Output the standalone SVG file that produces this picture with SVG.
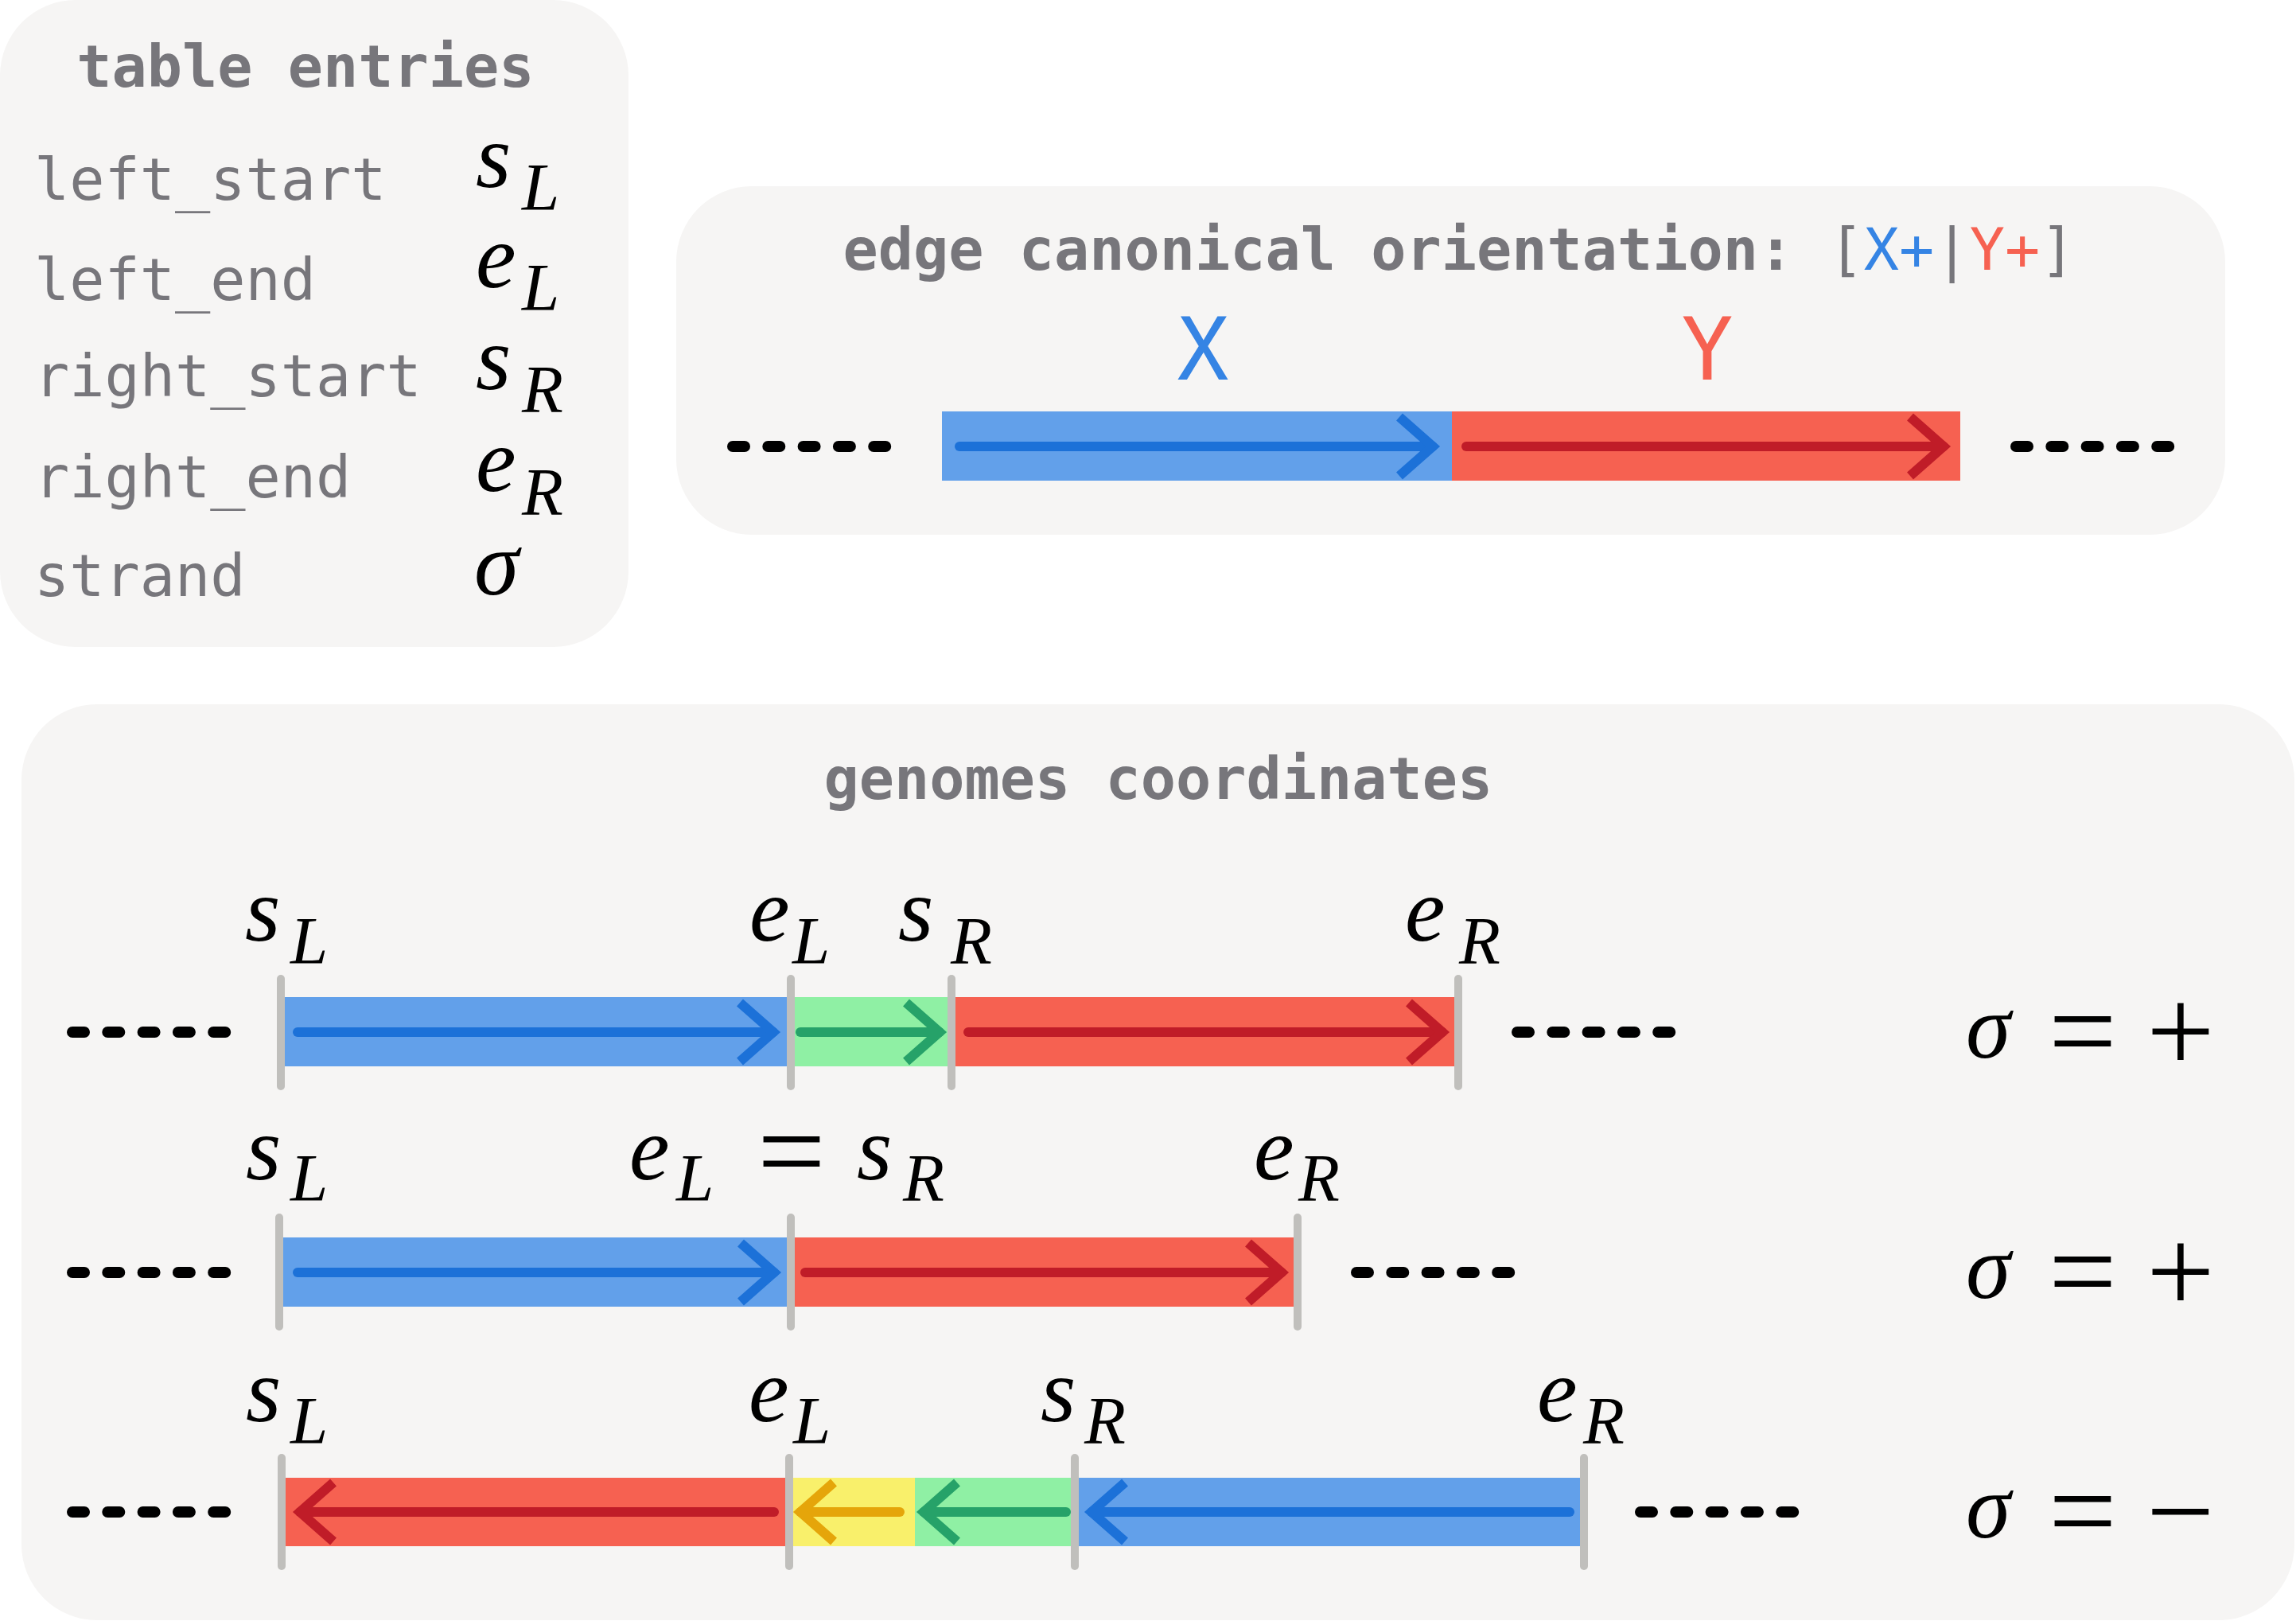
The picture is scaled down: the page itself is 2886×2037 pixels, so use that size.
<svg xmlns="http://www.w3.org/2000/svg" xmlns:xlink="http://www.w3.org/1999/xlink" width="2886" height="2037" viewBox="0 0 2886 2037">
<style>
.panel{fill:#f6f5f4}
.title{font-family:"DejaVu Sans Mono",monospace;font-weight:bold;font-size:73.5px;fill:#77767b}
.mono{font-family:"DejaVu Sans Mono",monospace;font-size:73.5px;fill:#77767b}
.big{font-family:"DejaVu Sans Mono",monospace;font-size:108px}
.m{font-family:"Liberation Serif","DejaVu Serif",serif;font-style:italic;font-size:114px;fill:#000}
.sub{font-size:85px}
.op{font-family:"Liberation Serif","DejaVu Serif",serif;font-style:normal;font-size:152px;fill:#000}
.dots{stroke:#000;stroke-width:14;stroke-linecap:round;stroke-dasharray:15 29.3;fill:none}
.tick{stroke:#c0bfbc;stroke-width:10;stroke-linecap:round}
.ln{stroke-width:12;stroke-linecap:round;fill:none}
.hd{stroke-width:12;stroke-linejoin:miter;stroke-miterlimit:10;fill:none}
.bF{fill:#62a0ea}.rF{fill:#f66151}.gF{fill:#8ff0a4}.yF{fill:#f9f06b}
.bS{stroke:#1c71d8}.rS{stroke:#c01c28}.gS{stroke:#26a269}.yS{stroke:#e5a50a}
</style>
<defs>
<path id="headR" d="M -42 -37 L 0 0 L -42 37"/>
<path id="headL" d="M 42 -37 L 0 0 L 42 37"/>
</defs>

<g id="table-entries">
<rect class="panel" x="0" y="0" width="790" height="813" rx="95"/>
<text class="title" x="384" y="109" text-anchor="middle">table entries</text>
<text class="mono" x="43" y="251">left_start</text>
<text class="mono" x="43" y="377">left_end</text>
<text class="mono" x="43" y="498">right_start</text>
<text class="mono" x="43" y="625">right_end</text>
<text class="mono" x="43" y="749">strand</text>
<text class="m" x="598" y="235">s<tspan class="sub" x="656" y="264">L</tspan></text>
<text class="m" x="598" y="361">e<tspan class="sub" x="656" y="390">L</tspan></text>
<text class="m" x="598" y="489">s<tspan class="sub" x="656" y="518">R</tspan></text>
<text class="m" x="598" y="617">e<tspan class="sub" x="656" y="647">R</tspan></text>
<text class="m" x="596" y="747">σ</text>
</g>

<g id="edge-canonical-orientation">
<rect class="panel" x="850" y="234" width="1947" height="438" rx="95"/>
<text x="1834" y="339" text-anchor="middle" class="mono"><tspan class="title">edge canonical orientation:</tspan> [<tspan fill="#3584e4">X+</tspan>|<tspan fill="#f66151">Y+</tspan>]</text>
<text class="big" x="1512" y="477" text-anchor="middle" fill="#3584e4">X</text>
<text class="big" x="2146" y="477" text-anchor="middle" fill="#f66151">Y</text>
<line class="dots" x1="921" y1="561" x2="1114" y2="561"/>
<line class="dots" x1="2534" y1="561" x2="2727" y2="561"/>
<rect class="bF" x="1184" y="517" width="641" height="87"/>
<rect class="rF" x="1825" y="517" width="639" height="87"/>
</g>

<g id="genomes-coordinates">
<rect class="panel" x="27" y="885" width="2857" height="1151" rx="95"/>
<text class="title" x="1456" y="1004" text-anchor="middle">genomes coordinates</text>
</g>

<g id="row-1">
<line class="dots" x1="91" y1="1297" x2="284" y2="1297"/>
<line class="dots" x1="1907" y1="1297" x2="2100" y2="1297"/>
<rect class="bF" x="353" y="1253" width="641" height="87"/>
<rect class="gF" x="994" y="1253" width="202" height="87"/>
<rect class="rF" x="1196" y="1253" width="637" height="87"/>
<text class="m" x="308" y="1182">s<tspan class="sub" x="365" y="1211">L</tspan></text>
<text class="m" x="942" y="1182">e<tspan class="sub" x="996" y="1211">L</tspan></text>
<text class="m" x="1129" y="1182">s<tspan class="sub" x="1195" y="1211">R</tspan></text>
<text class="m" x="1766" y="1182">e<tspan class="sub" x="1834" y="1211">R</tspan></text>
<text class="m" x="2471" y="1329">σ</text>
<text class="op" x="2575" y="1347">=</text>
<text class="op" x="2698" y="1347">+</text>
</g>

<g id="row-2">
<line class="dots" x1="91" y1="1599" x2="284" y2="1599"/>
<line class="dots" x1="1705" y1="1599" x2="1898" y2="1599"/>
<rect class="bF" x="351" y="1555" width="643" height="87"/>
<rect class="rF" x="994" y="1555" width="637" height="87"/>
<text class="m" x="309" y="1482">s<tspan class="sub" x="365" y="1509">L</tspan></text>
<text class="m" x="791" y="1482">e<tspan class="sub" x="850" y="1509">L</tspan></text>
<text class="op" x="952" y="1498">=</text>
<text class="m" x="1077" y="1482">s<tspan class="sub" x="1135" y="1509">R</tspan></text>
<text class="m" x="1576" y="1482">e<tspan class="sub" x="1632" y="1509">R</tspan></text>
<text class="m" x="2471" y="1631">σ</text>
<text class="op" x="2575" y="1649">=</text>
<text class="op" x="2698" y="1649">+</text>
</g>

<g id="row-3">
<line class="dots" x1="91" y1="1900" x2="284" y2="1900"/>
<line class="dots" x1="2062" y1="1900" x2="2255" y2="1900"/>
<rect class="rF" x="354" y="1857" width="638" height="86"/>
<rect class="yF" x="992" y="1857" width="158" height="86"/>
<rect class="gF" x="1150" y="1857" width="201" height="86"/>
<rect class="bF" x="1351" y="1857" width="640" height="86"/>
<text class="m" x="309" y="1786">s<tspan class="sub" x="365" y="1814">L</tspan></text>
<text class="m" x="941" y="1786">e<tspan class="sub" x="997" y="1814">L</tspan></text>
<text class="m" x="1308" y="1786">s<tspan class="sub" x="1363" y="1814">R</tspan></text>
<text class="m" x="1932" y="1786">e<tspan class="sub" x="1990" y="1814">R</tspan></text>
<text class="m" x="2471" y="1932">σ</text>
<text class="op" x="2575" y="1950">=</text>
<text class="op" x="2698" y="1950">−</text>
</g>

<g id="connectors">
<line class="ln bS" x1="1206" y1="561" x2="1801" y2="561"/>
<use xlink:href="#headR" class="hd bS" transform="translate(1801,561)"/>
<line class="ln rS" x1="1843" y1="561" x2="2443" y2="561"/>
<use xlink:href="#headR" class="hd rS" transform="translate(2443,561)"/>

<line class="ln bS" x1="374" y1="1297" x2="972" y2="1297"/>
<use xlink:href="#headR" class="hd bS" transform="translate(972,1297)"/>
<line class="ln gS" x1="1006" y1="1297" x2="1181" y2="1297"/>
<use xlink:href="#headR" class="hd gS" transform="translate(1181,1297)"/>
<line class="ln rS" x1="1217" y1="1297" x2="1813" y2="1297"/>
<use xlink:href="#headR" class="hd rS" transform="translate(1813,1297)"/>

<line class="ln bS" x1="374" y1="1599" x2="973" y2="1599"/>
<use xlink:href="#headR" class="hd bS" transform="translate(973,1599)"/>
<line class="ln rS" x1="1012" y1="1599" x2="1611" y2="1599"/>
<use xlink:href="#headR" class="hd rS" transform="translate(1611,1599)"/>

<line class="ln rS" x1="973" y1="1900" x2="377" y2="1900"/>
<use xlink:href="#headL" class="hd rS" transform="translate(377,1900)"/>
<line class="ln yS" x1="1131" y1="1900" x2="1006" y2="1900"/>
<use xlink:href="#headL" class="hd yS" transform="translate(1006,1900)"/>
<line class="ln gS" x1="1340" y1="1900" x2="1161" y2="1900"/>
<use xlink:href="#headL" class="hd gS" transform="translate(1161,1900)"/>
<line class="ln bS" x1="1973" y1="1900" x2="1372" y2="1900"/>
<use xlink:href="#headL" class="hd bS" transform="translate(1372,1900)"/>

<line class="tick" x1="353" y1="1230" x2="353" y2="1365"/>
<line class="tick" x1="994" y1="1230" x2="994" y2="1365"/>
<line class="tick" x1="1196" y1="1230" x2="1196" y2="1365"/>
<line class="tick" x1="1833" y1="1230" x2="1833" y2="1365"/>

<line class="tick" x1="351" y1="1530" x2="351" y2="1667"/>
<line class="tick" x1="994" y1="1530" x2="994" y2="1667"/>
<line class="tick" x1="1631" y1="1530" x2="1631" y2="1667"/>

<line class="tick" x1="354" y1="1832" x2="354" y2="1968"/>
<line class="tick" x1="992" y1="1832" x2="992" y2="1968"/>
<line class="tick" x1="1351" y1="1832" x2="1351" y2="1968"/>
<line class="tick" x1="1991" y1="1832" x2="1991" y2="1968"/>
</g>
</svg>
